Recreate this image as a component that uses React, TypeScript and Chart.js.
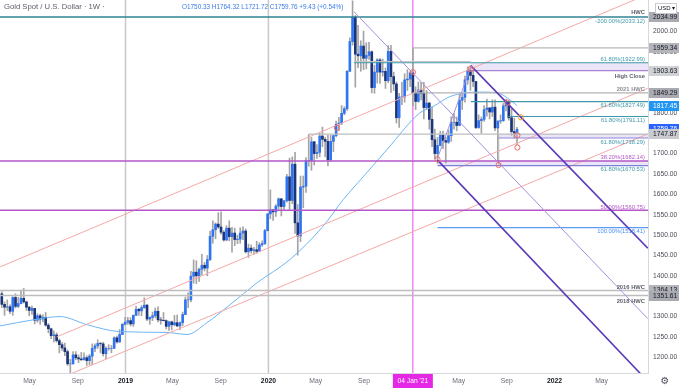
import React, { useEffect, useRef } from 'react';
import { Chart, registerables } from 'chart.js';

Chart.register(...registerables);

const FONT = '"Liberation Sans", Arial, sans-serif';

// ---------- weekly XAU/USD candles (week starting Mondays from WEEK_START) ----------
const WEEK_START = '2018-02-19';

const opens = [
  1356, 1330, 1323, 1324, 1313, 1347, 1325, 1332, 1345, 1336, 1323, 1315, 1320, 1291, 1302, 1294, 1298, 1279, 1270, 1253, 1255, 1241, 1231, 1223, 1214, 1184, 1184, 1206, 1199, 1196, 1194, 1199, 1192, 1203, 1222, 1228, 1234, 1233, 1209, 1222, 1222, 1222, 1248, 1238, 1256, 1281,
  1286, 1290, 1282, 1303, 1318, 1314, 1322, 1328, 1294, 1298, 1302, 1313, 1292, 1291, 1290, 1276, 1287, 1280, 1285, 1277, 1285, 1305, 1341, 1341, 1399, 1409, 1400, 1416, 1426, 1419, 1440, 1497, 1513, 1527, 1520, 1507, 1488, 1517, 1496, 1505, 1489, 1490, 1505, 1510, 1459, 1468, 1462, 1464, 1460, 1476, 1479, 1511,
  1552, 1562, 1557, 1571, 1589, 1570, 1584, 1643, 1585, 1674, 1530, 1498, 1618, 1620, 1683, 1683, 1729, 1700, 1703, 1743, 1735, 1730, 1685, 1730, 1744, 1772, 1775, 1799, 1810, 1902, 1975, 2035, 1944, 1940, 1964, 1934, 1941, 1950, 1862, 1900, 1930, 1900, 1902, 1879, 1951, 1889, 1871, 1788, 1839, 1839, 1881, 1883,
  1898, 1849, 1828, 1856, 1848, 1813, 1824, 1784, 1734, 1700, 1720, 1745, 1732, 1728, 1744, 1777, 1777, 1769, 1831, 1838, 1881, 1903.6, 1892, 1877, 1764, 1781, 1784, 1808, 1812, 1802, 1814, 1763, 1780, 1781, 1817, 1827, 1788, 1754, 1750.33,
];
const highs = [
  1361, 1336, 1341, 1329, 1349, 1356, 1347, 1365, 1369, 1338, 1325, 1326, 1320, 1307, 1306, 1304, 1310, 1283, 1272, 1265, 1260, 1245, 1236, 1235, 1218, 1195, 1214, 1214, 1206, 1212, 1211, 1204, 1207, 1233, 1233, 1243, 1237, 1237, 1226, 1231, 1229, 1250, 1252, 1268, 1283, 1298,
  1298, 1297, 1304, 1326, 1320, 1327, 1346, 1330, 1299, 1311, 1321, 1324, 1298, 1310, 1292, 1289, 1289, 1303, 1304, 1287, 1311, 1348, 1358, 1411, 1439, 1437, 1419, 1453, 1433, 1450, 1510, 1535, 1530, 1555, 1557, 1511, 1523, 1535, 1519, 1517, 1500, 1518, 1520, 1515, 1478, 1476, 1470, 1485, 1481, 1486, 1514, 1553,
  1611, 1563, 1575, 1591, 1590, 1585, 1649, 1689, 1692, 1703, 1575, 1645, 1645, 1690, 1747, 1740, 1730, 1722, 1751, 1765, 1740, 1745, 1745, 1745, 1780, 1789, 1818, 1815, 1904, 1984, 2075, 2039, 2015, 1977, 2001, 1972, 1973, 1952, 1917, 1933, 1933, 1932, 1910, 1965, 1966, 1900, 1876, 1848, 1875, 1896, 1906, 1901,
  1959, 1864, 1876, 1875, 1875, 1855, 1826, 1815, 1760, 1740, 1755, 1755, 1740, 1758, 1790, 1798, 1790, 1845, 1846, 1890, 1913, 1916, 1903, 1877, 1795, 1790, 1818, 1834, 1813, 1832, 1832, 1780, 1795, 1823, 1834, 1827, 1809, 1787, 1764.32,
];
const lows = [
  1322, 1303, 1315, 1307, 1303, 1321, 1322, 1331, 1333, 1315, 1302, 1305, 1282, 1286, 1281, 1287, 1276, 1260, 1246, 1238, 1237, 1211, 1217, 1204, 1180, 1160, 1183, 1194, 1187, 1192, 1193, 1180, 1182, 1183, 1214, 1222, 1211, 1203, 1196, 1217, 1211, 1221, 1235, 1236, 1256, 1279,
  1281, 1277, 1276, 1302, 1303, 1302, 1320, 1290, 1281, 1290, 1297, 1287, 1281, 1289, 1270, 1266, 1267, 1277, 1275, 1268, 1278, 1305, 1322, 1336, 1382, 1381, 1386, 1403, 1412, 1400, 1437, 1480, 1491, 1516, 1502, 1485, 1486, 1486, 1458, 1474, 1479, 1480, 1489, 1456, 1445, 1456, 1453, 1455, 1459, 1472, 1477, 1510,
  1540, 1536, 1546, 1563, 1547, 1562, 1581, 1562, 1577, 1504, 1451, 1484, 1567, 1605, 1669, 1659, 1672, 1688, 1692, 1717, 1692, 1670, 1681, 1705, 1741, 1756, 1771, 1795, 1806, 1902, 1966, 1863, 1911, 1902, 1906, 1908, 1931, 1849, 1848, 1873, 1872, 1890, 1860, 1874, 1850, 1855, 1775, 1764, 1820, 1826, 1855, 1864,
  1817, 1808, 1826, 1832, 1785, 1809, 1760, 1717, 1687, 1676, 1719, 1712, 1677, 1725, 1730, 1760, 1756, 1768, 1808, 1826, 1870, 1855, 1864, 1761, 1762, 1750, 1779, 1792, 1785, 1791, 1756, 1678, 1774, 1779, 1805, 1782, 1745, 1738, 1721.72,
];
const closes = [
  1330, 1323, 1324, 1313, 1347, 1325, 1332, 1345, 1336, 1323, 1315, 1320, 1291, 1302, 1294, 1298, 1279, 1270, 1253, 1255, 1241, 1231, 1223, 1214, 1184, 1184, 1206, 1199, 1196, 1194, 1199, 1192, 1203, 1222, 1228, 1234, 1233, 1209, 1222, 1222, 1222, 1248, 1238, 1256, 1281, 1286,
  1290, 1282, 1303, 1318, 1314, 1322, 1328, 1294, 1298, 1302, 1313, 1292, 1291, 1290, 1276, 1287, 1280, 1285, 1277, 1285, 1305, 1341, 1341, 1399, 1409, 1400, 1416, 1426, 1419, 1440, 1497, 1513, 1527, 1520, 1507, 1488, 1517, 1496, 1505, 1489, 1490, 1505, 1510, 1459, 1468, 1462, 1464, 1460, 1476, 1479, 1511, 1552,
  1562, 1557, 1571, 1589, 1570, 1584, 1643, 1585, 1674, 1530, 1498, 1618, 1620, 1683, 1683, 1729, 1700, 1703, 1743, 1735, 1730, 1685, 1730, 1744, 1772, 1775, 1799, 1810, 1902, 1975, 2035, 1944, 1940, 1964, 1934, 1941, 1950, 1862, 1900, 1930, 1900, 1902, 1879, 1951, 1889, 1871, 1788, 1839, 1839, 1881, 1883, 1898,
  1849.3, 1828, 1856, 1848, 1813, 1824, 1784, 1734, 1700, 1720, 1745, 1732, 1728, 1744, 1777, 1777, 1769, 1831, 1838, 1881, 1903.6, 1892, 1877, 1764, 1781, 1784, 1808, 1812, 1802, 1814, 1763, 1780, 1781, 1817, 1827, 1788, 1754, 1750.33, 1759.76,
];

// ---------- 52-week moving average ----------
const maDates = ['2018-02-14', '2018-05-10', '2018-07-18', '2018-09-25', '2018-12-18', '2019-04-17', '2019-06-07', '2019-07-28', '2019-09-25', '2019-12-03', '2020-02-25', '2020-05-19', '2020-07-10', '2020-08-30', '2020-10-30', '2021-01-22', '2021-02-24', '2021-04-09', '2021-06-24', '2021-08-07', '2021-09-17', '2021-09-27'];
const maValues = [1277, 1292, 1300, 1280, 1263, 1261, 1256, 1285, 1329, 1383, 1440, 1521, 1587, 1643, 1710, 1800, 1815, 1840, 1851, 1849, 1826, 1817.45];

// ---------- axis ticks ----------
const xTickDates = ['2018-05-01', '2018-09-01', '2019-01-01', '2019-05-01', '2019-09-01', '2020-01-01', '2020-05-01', '2020-09-01', '2021-05-01', '2021-09-01', '2022-01-01', '2022-05-01'];
const xTickLabels = ['May', 'Sep', '2019', 'May', 'Sep', '2020', 'May', 'Sep', 'May', 'Sep', '2022', 'May'];
const yTicks = [1200, 1250, 1300, 1350, 1400, 1450, 1500, 1550, 1600, 1650, 1700, 1750, 1800, 1850, 1900, 1950, 2000];

// ---------- horizontal levels: price, start date (null = left edge), end date (null = right edge) ----------
const levelPrices = [2034.99, 1959.34, 1926.0, 1922.99, 1903.63, 1849.29, 1827.49, 1791.11, 1747.87, 1738.29, 1682.14, 1670.53, 1560.75, 1518.41, 1364.13, 1351.61];
const levelStarts = [null, '2021-01-04', '2020-08-07', '2020-08-07', '2021-06-01', '2021-01-04', '2021-06-01', '2021-09-03', '2020-04-13', '2021-08-11', null, '2021-03-08', null, '2021-03-08', null, null];
const levelEnds = [null, null, '2021-06-01', null, null, null, null, null, null, null, null, null, null, null, null, null];
const levelColors = ['#2f8494', '#b8b8b8', '#c4c4c4', '#3f98aa', '#a985d6', '#b3b3b3', '#3f98aa', '#3f98aa', '#bdbdbd', '#8e86d8', '#b356c8', '#7c80d8', '#b356c8', '#5a9cf2', '#bdbdbd', '#bdbdbd'];

// ---------- shaded zones ----------
const bandStarts = ['2021-06-01', '2021-08-11', '2021-03-08'];
const bandTops = [1922.99, 1747.87, 1682.14];
const bandBottoms = [1903.63, 1738.29, 1670.53];

// ---------- trend lines: [start date, start price, end date, end price] ----------
const pinkLines = [
  ['2018-02-14', 1421.6, '2022-08-27', 2091],
  ['2018-07-09', 1250, '2022-08-27', 1860.4],
  ['2018-08-16', 1160.2, '2022-08-27', 1748],
];
const lightPurpleLines = [
  ['2020-08-07', 2048, '2022-08-27', 1295],
  ['2021-03-08', 1689, '2021-06-01', 1913],
];
const darkPurpleLines = [
  ['2021-06-01', 1916, '2022-08-27', 1468],
  ['2021-03-08', 1684, '2022-08-27', 1141],
];
const verticalGray = ['2019-01-01', '2020-01-01'];
const crosshairDate = '2021-01-04';

// ---------- marker circles ----------
const circleDates = ['2020-06-24', '2021-01-04', '2021-03-08', '2021-06-01', '2021-09-03', '2021-10-07', '2021-09-28', '2021-09-28', '2021-08-11'];
const circlePrices = [1763, 1900, 1686, 1908, 1825, 1789, 1745, 1715, 1672];
const circleColors = ['#ef6a6a', '#ef6a6a', '#ef6a6a', '#ef6a6a', '#ef6a6a', '#f0a030', '#ef6a6a', '#ef6a6a', '#ef6a6a'];

// ---------- right-axis price tags ----------
const tagPrices = [2034.99, 1959.34, 1903.63, 1849.29, 1817.45, 1759.76, 1747.87, 1364.13, 1351.61];
const tagBg = ['#a9abb0', '#b3b5ba', '#cfd1d5', '#a9abb0', '#2196f3', '#2962ff', '#c9cbcf', '#b3b5ba', '#a9abb0'];
const tagFg = ['#131722', '#131722', '#131722', '#131722', '#ffffff', '#ffffff', '#131722', '#131722', '#131722'];

// ---------- level captions ----------
const captionTexts = ['HWC', '-200.00%(2033.12)', '61.80%(1922.99)', 'High Close', '2021 HWC', '61.80%(1827.49)', '61.80%(1791.11)', '61.80%(1738.29)', '38.20%(1682.14)', '61.80%(1670.53)', '50.00%(1560.75)', '100.00%(1518.41)', '2016 HWC', '2018 HWC'];
const captionPrices = [2034.99, 2034.99, 1922.99, 1903.63, 1849.29, 1827.49, 1791.11, 1738.29, 1682.14, 1670.53, 1560.75, 1518.41, 1364.13, 1351.61];
const captionOffsets = [-4.3, 3.8, -3.4, 5.4, -3.7, 3.4, 3.6, 4.4, -3.5, 3.6, -3, 3.5, -3, 5.5];
const captionColors = ['#5d606b', '#3f98aa', '#3f98aa', '#5d606b', '#8a8d96', '#3f98aa', '#3f98aa', '#3f98aa', '#b356c8', '#3f98aa', '#b356c8', '#4a8ef0', '#5d606b', '#5d606b'];
const captionBold = [true, false, false, true, true, false, false, false, false, false, false, false, true, true];

const TITLE = 'Gold Spot / U.S. Dollar \u00b7 1W \u00b7';

// ---------- helpers ----------
const DAY0 = Date.UTC(2018, 0, 1);
const day = (s: string) => {
  const [y, m, d] = s.split('-').map(Number);
  return (Date.UTC(y, m - 1, d) - DAY0) / 86400000;
};
const X_MIN = day('2018-02-14') + 0.4;
const X_MAX = day('2022-08-27') + 0.6;
const Y_MIN = 1161.5;
const Y_MAX = 2077;

function segment(x1: number, y1: number, x2: number, y2: number, color: string, width: number, order: number) {
  return {
    type: 'line',
    data: [{ x: x1, y: y1 }, { x: x2, y: y2 }],
    borderColor: color,
    borderWidth: width,
    pointRadius: 0,
    fill: false,
    tension: 0,
    order,
  };
}

function buildDatasets() {
  const start = day(WEEK_START);
  const xs = closes.map((_, i) => start + 7 * i);
  const ds: any[] = [];

  // verticals
  verticalGray.forEach((d) => ds.push(segment(day(d), Y_MIN - 50, day(d), Y_MAX + 50, '#c8c8c8', 1.5, 30)));
  ds.push(segment(day(crosshairDate), Y_MIN - 50, day(crosshairDate), Y_MAX + 50, '#e54ef0', 1, 30));

  // candles
  ds.push({
    type: 'bar',
    data: xs.map((x, i) => ({ x, y: [lows[i], highs[i]] })),
    backgroundColor: '#a4a4a4',
    barThickness: 1,
    grouped: false,
    order: 25,
  });
  ds.push({
    type: 'bar',
    data: xs.map((x, i) => ({ x, y: [opens[i], closes[i]] })),
    backgroundColor: closes.map((c, i) => (c >= opens[i] ? '#2f74f2' : '#1b3578')),
    barThickness: 2,
    grouped: false,
    order: 24,
  });

  // moving average
  ds.push({
    type: 'line',
    data: maDates.map((d, i) => ({ x: day(d), y: maValues[i] })),
    borderColor: '#6cb6f5',
    borderWidth: 1,
    pointRadius: 0,
    cubicInterpolationMode: 'monotone',
    fill: false,
    order: 20,
  });

  // horizontal levels
  levelPrices.forEach((p, i) => {
    const x1 = levelStarts[i] ? day(levelStarts[i] as string) : X_MIN - 10;
    const x2 = levelEnds[i] ? day(levelEnds[i] as string) : X_MAX + 10;
    const w = levelStarts[i] ? 1.2 : 1.5;
    ds.push(segment(x1, p, x2, p, levelColors[i], w, 10));
  });
  // measuring stick
  ds.push(segment(day('2021-08-11'), 1747.87, day('2021-08-11'), 1672, '#bdbdbd', 1, 10));

  // trend lines
  pinkLines.forEach((l) => ds.push(segment(day(l[0] as string), l[1] as number, day(l[2] as string), l[3] as number, '#f5a8a8', 1, 12)));
  lightPurpleLines.forEach((l) => ds.push(segment(day(l[0] as string), l[1] as number, day(l[2] as string), l[3] as number, '#a48fdc', 1, 8)));
  darkPurpleLines.forEach((l) => ds.push(segment(day(l[0] as string), l[1] as number, day(l[2] as string), l[3] as number, '#5b3bb8', 1.6, 7)));

  // circles
  ds.push({
    type: 'scatter',
    data: circleDates.map((d, i) => ({ x: day(d), y: circlePrices[i] })),
    pointRadius: 2.6,
    pointBorderWidth: 1,
    pointBorderColor: circleColors,
    pointBackgroundColor: 'rgba(255,255,255,0)',
    showLine: false,
    order: 0,
  });
  return ds;
}

const overlayPlugin = {
  id: 'overlay',
  beforeDatasetsDraw(chart: any) {
    const { ctx, chartArea, scales } = chart;
    const xs = scales.x, ys = scales.y;
    ctx.save();
    ctx.beginPath();
    ctx.rect(chartArea.left, chartArea.top, chartArea.right - chartArea.left, chartArea.bottom - chartArea.top);
    ctx.clip();
    ctx.fillStyle = 'rgba(200,186,236,0.38)';
    bandStarts.forEach((d, i) => {
      const x1 = xs.getPixelForValue(day(d));
      const yt = ys.getPixelForValue(bandTops[i]);
      const yb = ys.getPixelForValue(bandBottoms[i]);
      ctx.fillRect(x1, yt, chartArea.right - x1, yb - yt);
    });
    ctx.restore();
  },
  afterDatasetsDraw(chart: any) {
    const { ctx, chartArea, scales } = chart;
    const ys = scales.y;
    ctx.save();
    ctx.textAlign = 'right';
    ctx.textBaseline = 'middle';
    captionTexts.forEach((t, i) => {
      ctx.font = `${captionBold[i] ? 'bold ' : ''}5.8px ${FONT}`;
      ctx.fillStyle = captionColors[i];
      ctx.fillText(t, chartArea.right - 3, ys.getPixelForValue(captionPrices[i]) + captionOffsets[i]);
    });
    ctx.restore();
  },
  afterDraw(chart: any) {
    const { ctx, chartArea, scales } = chart;
    const xs = scales.x, ys = scales.y;
    const W = chart.width, H = chart.height;
    ctx.save();
    // header
    ctx.textBaseline = 'middle';
    ctx.textAlign = 'left';
    ctx.font = `7.7px ${FONT}`;
    ctx.fillStyle = '#5d606b';
    ctx.fillText(TITLE, 4, 7);
    const n = closes.length - 1;
    const chg = closes[n] - closes[n - 1];
    const pct = (chg / closes[n - 1]) * 100;
    const ohlc = `O${opens[n].toFixed(2)} H${highs[n].toFixed(2)} L${lows[n].toFixed(2)} C${closes[n].toFixed(2)} ${chg >= 0 ? '+' : ''}${chg.toFixed(2)} (${chg >= 0 ? '+' : ''}${pct.toFixed(2)}%)`;
    ctx.font = `6.4px ${FONT}`;
    ctx.fillStyle = '#3a7be9';
    ctx.fillText(ohlc, 182, 7);

    // price tags on the right axis
    ctx.font = `6.7px ${FONT}`;
    tagPrices.forEach((p, i) => {
      const y = ys.getPixelForValue(p);
      ctx.fillStyle = tagBg[i];
      ctx.fillRect(chartArea.right + 1, Math.round(y) - 5, W - chartArea.right - 1, 10);
      ctx.fillStyle = tagFg[i];
      ctx.fillText(p.toFixed(2), chartArea.right + 5, Math.round(y) + 0.5);
    });

    // currency selector
    ctx.fillStyle = '#ffffff';
    ctx.fillRect(655, 3, 22, 11);
    ctx.strokeStyle = '#c9cbd1';
    ctx.lineWidth = 1;
    ctx.strokeRect(655.5, 3.5, 21, 10);
    ctx.fillStyle = '#131722';
    ctx.font = `6px ${FONT}`;
    ctx.fillText('USD \u25BE', 658, 8.8);

    // crosshair date label
    const cx = xs.getPixelForValue(day(crosshairDate));
    ctx.fillStyle = '#e528e6';
    ctx.fillRect(cx - 20, chartArea.bottom + 1, 40, H - chartArea.bottom - 1);
    ctx.fillStyle = '#ffffff';
    ctx.textAlign = 'center';
    ctx.font = `6.7px ${FONT}`;
    ctx.fillText("04 Jan '21", cx, chartArea.bottom + 8);

    // settings gear
    ctx.fillStyle = '#50535e';
    ctx.font = `10px "DejaVu Sans"`;
    ctx.fillText('\u2699', 665, chartArea.bottom + 8);
    ctx.restore();
  },
};

export default function App() {
  const ref = useRef<HTMLCanvasElement | null>(null);
  useEffect(() => {
    document.body.style.margin = '0';
    if (!ref.current) return;
    Chart.defaults.font.family = FONT;
    const xTickDays = xTickDates.map(day);
    const chart = new Chart(ref.current, {
      type: 'bar',
      data: { datasets: buildDatasets() as any },
      options: {
        animation: false,
        responsive: false,
        devicePixelRatio: 1,
        events: [],
        layout: { padding: 0, autoPadding: false },
        plugins: { legend: { display: false }, tooltip: { enabled: false } },
        scales: {
          x: {
            type: 'linear',
            min: X_MIN,
            max: X_MAX,
            offset: false,
            grid: { display: false, drawTicks: false },
            border: { display: true, color: '#d6d8de' },
            afterBuildTicks: (s: any) => {
              s.ticks = xTickDays.map((v) => ({ value: v }));
            },
            afterFit: (s: any) => {
              s.height = 15;
              s.paddingLeft = 0;
              s.paddingRight = 0;
            },
            ticks: {
              autoSkip: false,
              maxRotation: 0,
              padding: 4,
              callback: (_v: any, i: number) => xTickLabels[i],
              font: (c: any) => ({ family: FONT, size: 6.8, weight: /^\d/.test(xTickLabels[c.index] || '') ? 'bold' : 'normal' }),
              color: (c: any) => (/^\d/.test(xTickLabels[c.index] || '') ? '#131722' : '#6a6d78'),
            },
          },
          y: {
            type: 'linear',
            position: 'right',
            min: Y_MIN,
            max: Y_MAX,
            grid: { display: false, drawTicks: false },
            border: { display: true, color: '#d6d8de' },
            afterBuildTicks: (s: any) => {
              s.ticks = yTicks.map((v) => ({ value: v }));
            },
            afterFit: (s: any) => {
              s.width = 31;
              s.paddingTop = 0;
              s.paddingBottom = 0;
            },
            ticks: {
              padding: 5,
              autoSkip: false,
              font: { family: FONT, size: 6.7 },
              color: '#4a4d56',
              callback: (v: any) => Number(v).toFixed(2),
            },
          },
        },
      } as any,
      plugins: [overlayPlugin],
    } as any);
    return () => chart.destroy();
  }, []);
  return (
    <div style={{ width: 679, height: 388 }}>
      <canvas ref={ref} width={679} height={388} style={{ display: 'block', width: 679, height: 388 }} />
    </div>
  );
}
